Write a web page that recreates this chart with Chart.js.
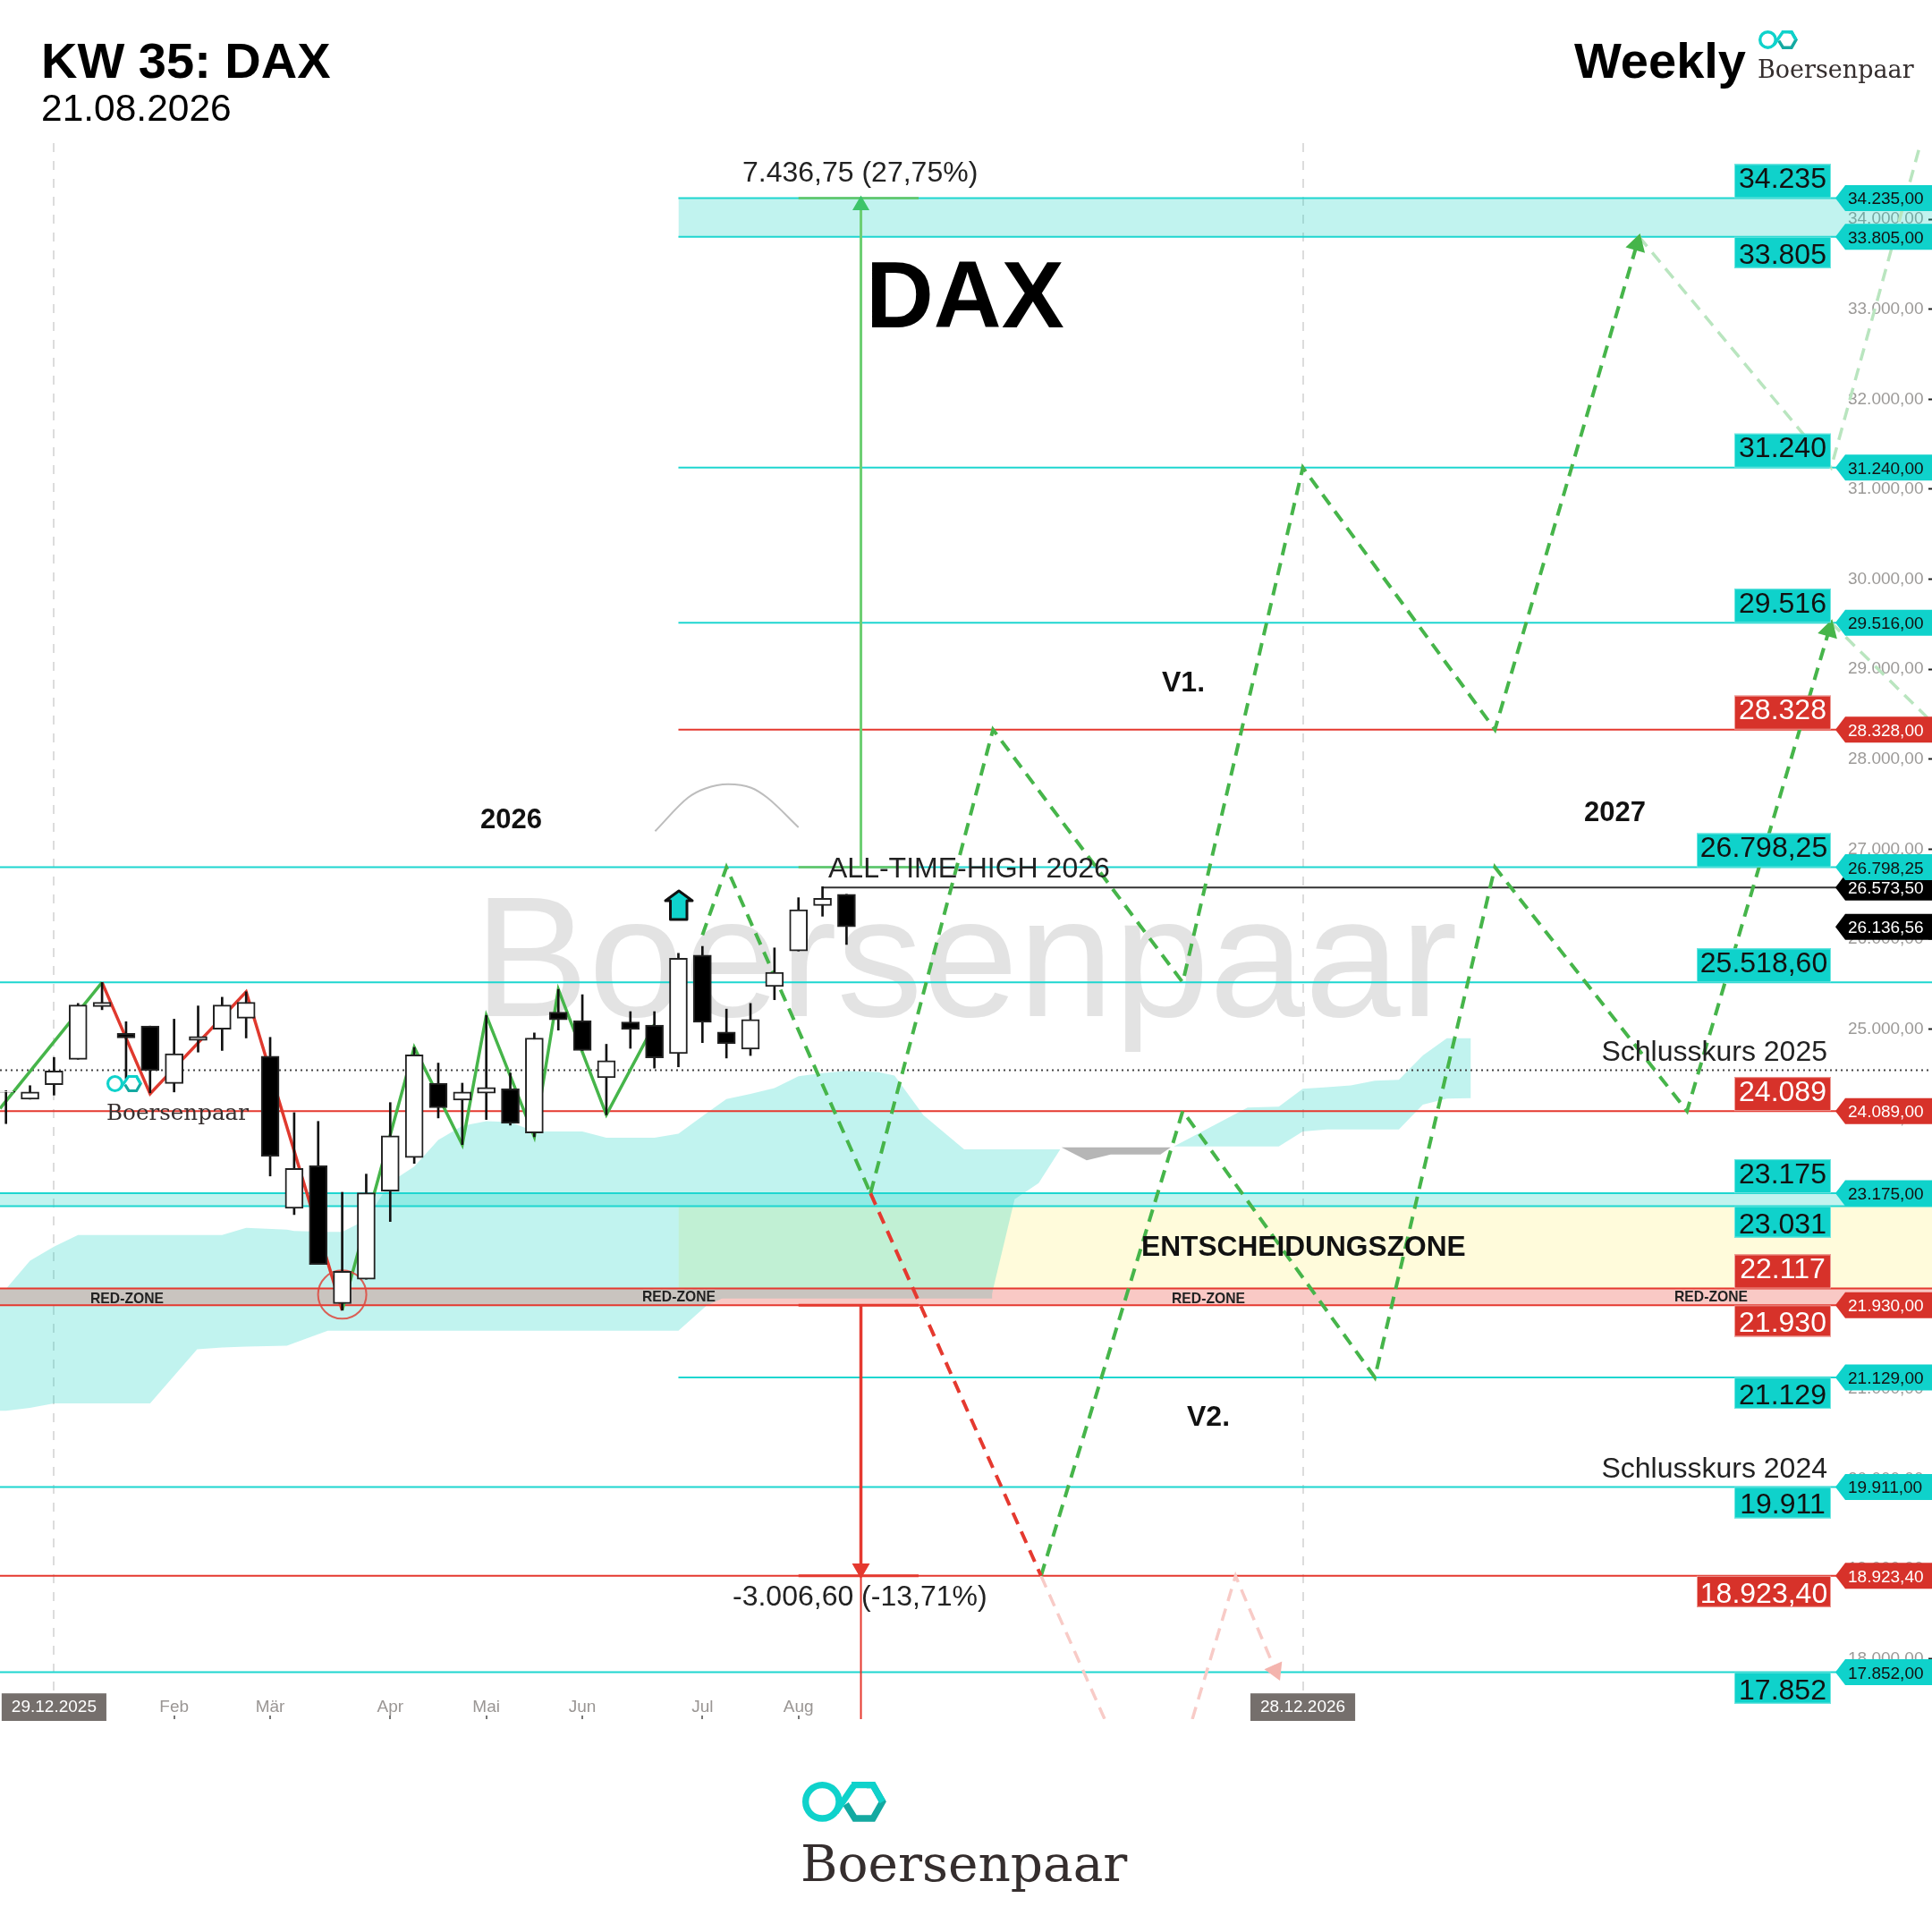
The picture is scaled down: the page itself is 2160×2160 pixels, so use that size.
<!DOCTYPE html>
<html><head><meta charset="utf-8">
<style>html,body{margin:0;padding:0;background:#fff}canvas{display:block}</style>
<script src="https://cdn.jsdelivr.net/npm/chart.js@4"></script>
</head><body><canvas id="c" width="2160" height="2160"></canvas>
<script>
// ---------- DATA ----------
const candleOpen  = [24298,24221,24382,24664,25250,24953,25033,24395,24873,24999,25121,24699,23008,23482,21948,22220,23199,23573,24399,24211,24287,24336,23845,25187,25093,24458,25079,25044,24727,25821,24967,24776,25473,25867,26372,26498];
const candleClose = [24308,24301,24535,25267,25298,24901,24542,24727,24918,25267,25298,23587,23451,22384,22307,23179,23813,24713,24127,24301,24350,23953,24901,25103,24762,24650,24995,24681,25787,25075,24838,25107,25630,26327,26453,26137];
const candleHigh  = [24315,24371,24685,25285,25518,25082,25033,25110,25257,25354,25414,24908,24071,23974,23186,23388,24183,24796,24622,24399,25152,24511,24957,25441,25382,24831,25194,25194,25842,25919,25222,25285,25902,26460,26582,26498];
const candleLow   = [23949,24221,24266,24664,25215,24448,24291,24301,24744,24762,24901,23367,22938,22384,21875,22220,22861,23507,24012,23716,23995,23932,23803,24988,24762,24047,24786,24566,24580,24849,24678,24706,25326,25867,26254,25940];

const cloudX     = [-0.25,0,1,2,3,6,7.96,9,10,11.7,12,13.4,14,15,16,17,18,19,20,21,22,24,25,27,28,29.2,30,31,32,33,34,35,36.3,37,38.2,39.9,41.05,42,43,43.9];
const cloudUpper = [22007,22112,22426,22582,22711,22711,22711,22711,22792,22770,22757,22746,22746,22879,23297,23471,23768,23925,23977,23967,23862,23862,23792,23792,23838,24070,24221,24280,24343,24476,24511,24535,24523,24482,24043,23663,23663,23663,23663,23663];
const cloudLower = [20757,20757,20790,20839,20839,20839,21441,21460,21470,21482,21510,21647,21647,21647,21647,21647,21647,21647,21647,21647,21647,21647,21647,21647,21647,21934,22030,22050,22050,22050,22050,22050,22050,22050,22050,22050,22050,23110,23289,23663];
const cloud2X     = [48.63,51.7,53,54,55,56,57,58,59,60,61];
const cloud2Upper = [23696,24127,24137,24336,24355,24375,24425,24435,24707,24899,24899];
const cloud2Lower = [23696,23696,23696,23862,23885,23885,23885,23885,24160,24226,24233];
const twistX     = [43.95,45,46,48.07,48.5];
const twistUpper = [23686,23686,23686,23686,23686];
const twistLower = [23686,23541,23607,23607,23686];
const grayZoneX     = [-0.25,29.2,29.8,41.07];
const grayZoneLower = [21930,21930,22006,22006];

const zigGreen1X = [-0.25,4];                 const zigGreen1Y = [24117,25518];
const zigRedX    = [4,6,10,14];               const zigRedY    = [25518,24280,25414,21875];
const zigGreen2X = [14,17,19,20,22,23,25,27]; const zigGreen2Y = [21875,24796,23716,25152,23803,25441,24047,25051];
const dashTopX   = [29,30,36];                const dashTopY   = [26045,26798.25,23175];
const dashRedX   = [36,43.1];                 const dashRedY   = [23175,18923.4];
const pathV2X    = [43.1,49,57,62,70,75.91,76];   const pathV2Y = [18923.4,24089,21129,26798.25,24089,29430,29516];
const pathV1X    = [36,41.1,49,54,62,67.91,68];   const pathV1Y = [23175,28328,25518.6,31240,28328,33719,33805];
const faintA_X   = [68,76,79.7];              const faintA_Y   = [33805,31240,34820];
const faintB_X   = [76,80];                   const faintB_Y   = [29516,28463];
const faintRed1X = [43.1,45.75];              const faintRed1Y = [18923.4,17331];
const faintRed2X = [49.4,51.2,52.86,53];      const faintRed2Y = [17331,18923.4,17872,17790];
const arcX = [27.03,28.4,29.1,30.07,31.03,31.7,33];  const arcY = [27199,27572,27672,27722,27682,27572,27242];

const levelsCyanFull  = [26798.25,25518.6,23175,23031,19911,17852];
const levelsCyanPart  = [34235,33805,31240,29516,21129];
const levelsRedFull   = [24089,22117,21930,18923.4];
const levelsRedPart   = [28328];
const closing2025 = 24542;
const athLevel = 26573.5;
const targetUp = 34235, targetDown = 18923.4, baseUp = 26798.25, baseDown = 21930;
const headUp = 34155, headDown = 19003;
const yTickValues = [18000,19000,20000,21000,22000,23000,24000,25000,26000,27000,28000,29000,30000,31000,32000,33000,34000];
const xTickValues = [2,7,11,16,20,24,29,33,54];
const xTickLabels = ['29.12.2025','Feb','Mär','Apr','Mai','Jun','Jul','Aug','28.12.2026'];
// right-hand price flags
const flagValues = [26573.5,26136.56,34235,33805,31240,29516,28328,26798.25,24089,23175,21930,21129,19911,18923.4,17852];
const flagLabels = ['26.573,50','26.136,56','34.235,00','33.805,00','31.240,00','29.516,00','28.328,00','26.798,25','24.089,00','23.175,00','21.930,00','21.129,00','19.911,00','18.923,40','17.852,00'];
const flagKinds  = ['k','k','c','c','c','c','r','c','r','c','r','c','c','r','c'];
// big price boxes
const boxValues = [34235,33805,31240,29516,28328,26798.25,25518.6,24089,23175,23031,22117,21930,21129,19911,18923.4,17852];
const boxLabels = ['34.235','33.805','31.240','29.516','28.328','26.798,25','25.518,60','24.089','23.175','23.031','22.117','21.930','21.129','19.911','18.923,40','17.852'];
const boxKinds  = ['c','c','c','c','r','c','c','r','c','c','r','r','c','c','r','c'];
const boxSides  = ['u','d','u','u','u','u','u','u','u','d','u','d','d','d','d','d'];

// ---------- STYLE ----------
const CY='#1ed6d0', RD='#e5392f', GR='#46b54a', TEAL='#0fd2cb';
const FONT='"Liberation Sans", Arial, sans-serif', SERIF='"DejaVu Serif", serif';
const HX=-0.2495, HXMAX=80.2;
const pts=(xs,ys)=>xs.map((x,i)=>({x,y:ys[i]}));
const ds=[];
function line(xs,ys,color,width,order,extra){
  ds.push(Object.assign({type:'line',data:pts(xs,ys),borderColor:color,borderWidth:width,pointRadius:0,tension:0,fill:false,order},extra||{}));
}
function area(xs,upper,lower,color,order){
  ds.push({type:'line',data:pts(xs,upper),borderWidth:0,borderColor:'transparent',backgroundColor:color,pointRadius:0,tension:0,fill:'+1',order});
  ds.push({type:'line',data:pts(xs,lower),borderWidth:0,borderColor:'transparent',pointRadius:0,tension:0,fill:false,order:order+0.1});
}
const cloudCol='rgba(17,209,193,0.26)';
// zones
area([28,HXMAX],[23031,23031],[22117,22117],'#fffbdb',100);
area([28,HXMAX],[22117,22117],[21930,21930],'#f9c9c5',99);
area(cloudX,cloudUpper,cloudLower,cloudCol,90);
area(cloud2X,cloud2Upper,cloud2Lower,cloudCol,90);
area(twistX,twistUpper,twistLower,'#b6b6b6',89);
area(grayZoneX,grayZoneX.map(()=>22117),grayZoneLower,'#c9c4bf',80);
area([HX,HXMAX],[23175,23175],[23031,23031],cloudCol,70);
area([28,HXMAX],[34235,34235],[33805,33805],cloudCol,70);
// levels
levelsCyanFull.forEach(v=>line([HX,HXMAX],[v,v],CY,2,60));
levelsCyanPart.forEach(v=>line([28,HXMAX],[v,v],CY,2,60));
levelsRedFull.forEach(v=>line([HX,HXMAX],[v,v],RD,2,60));
levelsRedPart.forEach(v=>line([28,HXMAX],[v,v],RD,2,60));
line([HX,HXMAX],[closing2025,closing2025],'#444',2,60,{borderDash:[2,4]});
line([34,HXMAX],[athLevel,athLevel],'#333',2,55);
// measuring tools
const MX=35.6;
line([33,38],[baseUp,baseUp],'#62c463',2.5,50);
line([33,38],[targetUp,targetUp],'#62c463',2.5,50);
line([33,38],[baseDown,baseDown],RD,3,50);
line([33,38],[targetDown,targetDown],RD,3,50);
line([MX,MX],[baseUp,headUp],'#6dcf73',3,49,{pointRadius:[0,8],pointStyle:'triangle',pointBackgroundColor:'#3cc46a',pointBorderColor:'#3cc46a',pointRotation:0});
line([MX,MX],[baseDown,headDown],RD,3.5,49,{pointRadius:[0,8],pointStyle:'triangle',pointBackgroundColor:RD,pointBorderColor:RD,pointRotation:180});
line([MX,MX],[targetDown,17331],RD,2,49);
// faint
const dash=[14,9];
line(faintA_X,faintA_Y,'#b9e5bf',3.5,40,{borderDash:dash});
line(faintB_X,faintB_Y,'#b9e5bf',3.5,40,{borderDash:dash});
line(faintRed1X,faintRed1Y,'#f8cbc7',3.5,40,{borderDash:dash});
line(faintRed2X,faintRed2Y,'#f8cbc7',3.5,40,{borderDash:dash,pointRadius:[0,0,9,0],pointStyle:'triangle',pointBackgroundColor:'#f4b4ae',pointBorderColor:'#f4b4ae',pointRotation:156});
// arc
line(arcX,arcY,'#bdbdbd',2,40,{cubicInterpolationMode:'monotone'});
// paths
line(pathV1X,pathV1Y,GR,4,30,{borderDash:dash,pointRadius:[0,0,0,0,0,9,0],pointStyle:'triangle',pointBackgroundColor:GR,pointBorderColor:GR,pointRotation:16});
line(pathV2X,pathV2Y,GR,4,30,{borderDash:dash,pointRadius:[0,0,0,0,0,9,0],pointStyle:'triangle',pointBackgroundColor:GR,pointBorderColor:GR,pointRotation:16});
line(dashTopX,dashTopY,GR,4,30,{borderDash:dash});
line(dashRedX,dashRedY,RD,4,29,{borderDash:dash});
line(zigGreen1X,zigGreen1Y,GR,3.5,28);
line(zigRedX,zigRedY,'#e0392e',3.5,28);
line(zigGreen2X,zigGreen2Y,GR,3.5,28);
// circle
ds.push({type:'line',data:[{x:14,y:22049}],showLine:false,pointRadius:27,pointStyle:'circle',pointBorderWidth:2,pointBorderColor:'rgba(222,70,60,.85)',pointBackgroundColor:'rgba(0,0,0,0)',order:27});
// candles
const ix=candleOpen.map((_,i)=>i);
ds.push({type:'bar',grouped:false,barThickness:2,order:11,backgroundColor:'#111',borderWidth:0,
  data:ix.map(i=>({x:i,y:[candleLow[i],candleHigh[i]]}))});
ds.push({type:'bar',grouped:false,barThickness:20,order:10,borderColor:'#222',borderWidth:2,borderSkipped:false,
  backgroundColor:ix.map(i=>candleClose[i]>=candleOpen[i]?'#ffffff':'#000000'),
  data:ix.map(i=>({x:i,y:[Math.min(candleOpen[i],candleClose[i]),Math.max(candleOpen[i],candleClose[i])]}))});

function logo(c,x,y,w){
  const u=w/282, cy=y+67*u;
  c.save();
  c.lineWidth=22*u;
  c.strokeStyle='#14a9a1';c.lineJoin='miter';
  c.beginPath();c.moveTo(x+216*u,y+11*u);c.lineTo(x+237*u,y+11*u);c.lineTo(x+269*u,y+67*u);c.lineTo(x+237*u,y+123*u);c.lineTo(x+176*u,y+123*u);c.lineTo(x+146*u,y+75*u);c.stroke();
  c.strokeStyle=TEAL;
  c.beginPath();c.moveTo(x+165*u,y+11*u);c.lineTo(x+237*u,y+11*u);c.lineTo(x+269*u,y+67*u);c.stroke();
  c.strokeStyle=TEAL;
  c.beginPath();c.arc(x+67*u,cy,56*u,0,Math.PI*2);c.stroke();
  c.beginPath();c.moveTo(x+112*u,y+102*u);c.lineTo(x+172*u,y+14*u);c.stroke();
  c.restore();
}
const texts=[
 ['KW 35: DAX',46,87,'bold 56px','#000','left'],['21.08.2026',46,135,'42.5px','#000','left'],
 ['Weekly',1760,87,'bold 56px','#000','left'],['DAX',968,366,'bold 105px','#000','left'],
 ['7.436,75 (27,75%)',830,203,'32px','#222','left'],['-3.006,60 (-13,71%)',819,1795,'32px','#222','left'],
 ['ALL-TIME-HIGH 2026',926,981,'32px','#222','left'],['2026',537,926,'bold 31px','#111','left'],
 ['2027',1771,918,'bold 31px','#111','left'],['V1.',1299,773,'bold 32px','#111','left'],['V2.',1327,1594,'bold 32px','#111','left'],
 ['ENTSCHEIDUNGSZONE',1276,1404,'bold 31.7px','#111','left'],
 ['Schlusskurs 2025',2043,1186,'32px','#222','right'],['Schlusskurs 2024',2043,1652,'32px','#222','right'],
 ['RED-ZONE',142,1457,'bold 15.7px','#222','center'],['RED-ZONE',759,1455,'bold 15.7px','#222','center'],
 ['RED-ZONE',1351,1457,'bold 15.7px','#222','center'],['RED-ZONE',1913,1455,'bold 15.7px','#222','center'],
];
const overlay={id:'overlay',
 beforeDatasetsDraw(ch){
  const c=ch.ctx;c.save();c.fillStyle='#e3e3e3';c.font='192px '+FONT;c.textAlign='left';c.textBaseline='alphabetic';
  c.fillText('Boersenpaar',530,1136);c.restore();
 },
 afterDatasetsDraw(ch){
  const c=ch.ctx,Y=ch.scales.y;c.save();c.textBaseline='alphabetic';
  const col={c:TEAL,r:'#d7322a',k:'#000'};
  boxValues.forEach((v,i)=>{
    const y=Y.getPixelForValue(v),long=boxLabels[i].length>6,up=boxSides[i]==='u';
    const h=up?38:35,top=up?y-h:y,x0=long?1897:1939,x1=2047;
    c.fillStyle=col[boxKinds[i]];c.fillRect(x0,top,x1-x0,h);
    c.strokeStyle=boxKinds[i]==='c'?'#6fe6e0':'#ee9e98';c.lineWidth=1;c.strokeRect(x0+.5,top+.5,x1-x0-1,h-1);
    c.font='32px '+FONT;c.textAlign='center';c.fillStyle=boxKinds[i]==='c'?'#111':'#fff';
    c.fillText(boxLabels[i],(x0+x1)/2,top+h-(up?11.5:5));
  });
  flagValues.forEach((v,i)=>{
    const y=Y.getPixelForValue(v),h=14.5;
    c.fillStyle=col[flagKinds[i]];c.beginPath();c.moveTo(2052,y);c.lineTo(2063,y-h);c.lineTo(2160,y-h);c.lineTo(2160,y+h);c.lineTo(2063,y+h);c.closePath();c.fill();
    c.font='19px '+FONT;c.textAlign='left';c.fillStyle=flagKinds[i]==='c'?'#111':'#fff';
    c.fillText(flagLabels[i],2066,y+7);
  });
  c.fillStyle=TEAL;c.strokeStyle='#111';c.lineWidth=3;c.lineJoin='round';
  c.beginPath();c.moveTo(759,996);c.lineTo(744,1007);c.lineTo(749.5,1007);c.lineTo(749.5,1028);c.lineTo(768,1028);c.lineTo(768,1007);c.lineTo(774,1007);c.closePath();c.fill();c.stroke();
  texts.forEach(t=>{c.font=t[3]+' '+FONT;c.fillStyle=t[4];c.textAlign=t[5];c.fillText(t[0],t[1],t[2]);});
  c.fillStyle='#352e2e';c.textAlign='left';
  c.font='27px '+SERIF;c.fillText('Boersenpaar',1965,87);
  c.font='24.6px '+SERIF;c.fillText('Boersenpaar',119,1252);
  c.font='56.5px '+SERIF;c.fillText('Boersenpaar',895,2103);
  logo(c,1966,34,44);logo(c,119,1202,40);logo(c,897,1992,94);
  c.restore();
 }};
const fmtY=v=>{const s=String(v);return s.slice(0,2)+'.'+s.slice(2)+',00';};
const isDate=v=>v===2||v===54;
new Chart(document.getElementById('c'),{
  type:'line',
  data:{datasets:ds},
  plugins:[overlay],
  options:{
    responsive:false,animation:false,devicePixelRatio:1,
    layout:{autoPadding:false,padding:{top:160,bottom:238,left:0,right:0}},
    plugins:{legend:{display:false},tooltip:{enabled:false},title:{display:false}},
    events:[],
    scales:{
      x:{type:'linear',offset:false,min:HX,max:HXMAX,position:'bottom',
        afterFit(s){s.height=0;s.paddingLeft=0;s.paddingRight=0;s.paddingTop=0;s.paddingBottom=0;},
        afterBuildTicks(s){s.ticks=xTickValues.map(v=>({value:v}));},
        grid:{offset:false,drawTicks:true,tickLength:-4,tickColor:'#777',tickWidth:2,
          color:c=>c.tick&&isDate(c.tick.value)?'#dcdcdc':'rgba(0,0,0,0)',lineWidth:2},
        border:{display:false,dash:[10,10]},
        ticks:{mirror:true,autoSkip:false,maxRotation:0,minRotation:0,padding:2,font:{family:FONT,size:19},
          callback:v=>xTickLabels[xTickValues.indexOf(v)],
          color:c=>isDate(c.tick.value)?'#ffffff':'#9a9694',
          showLabelBackdrop:c=>isDate(c.tick.value),
          backdropColor:'#756f6c',backdropPadding:{x:11,y:4}}},
      y:{type:'linear',position:'right',min:17331,max:34846,
        afterFit(s){s.width=0;s.paddingLeft=0;s.paddingRight=0;s.paddingTop=0;s.paddingBottom=0;},
        afterBuildTicks(s){s.ticks=yTickValues.map(v=>({value:v}));},
        grid:{drawOnChartArea:false,drawTicks:true,tickLength:-4,tickColor:'#222',tickWidth:2},
        border:{display:false},
        ticks:{mirror:true,padding:-9.5,autoSkip:false,font:{family:FONT,size:19},color:'#9c9a98',callback:fmtY}}
    }
  }
});
</script></body></html>
